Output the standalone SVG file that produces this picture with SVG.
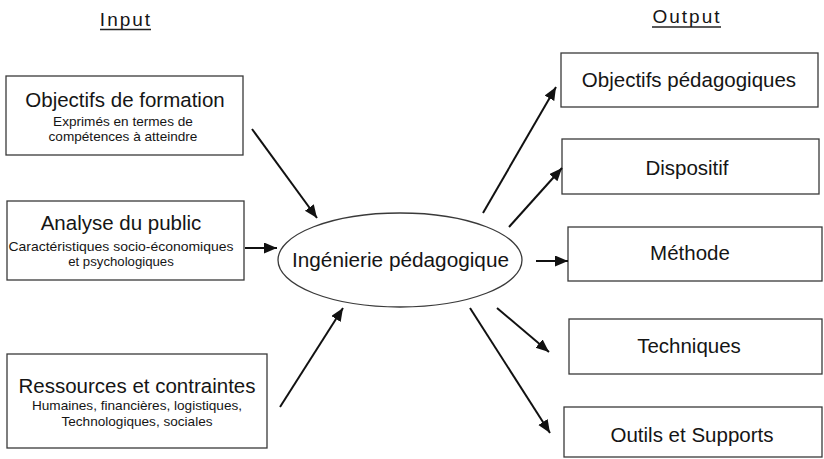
<svg xmlns="http://www.w3.org/2000/svg" width="824" height="459" viewBox="0 0 824 459">
<style>
text{font-family:"Liberation Sans",Arial,sans-serif;fill:#151515;text-anchor:middle}
.box{fill:#fff;stroke:#3a3a3a;stroke-width:1.3}
.t{font-size:20.5px}
.s{font-size:13.6px}
.s2{font-size:13.2px}
.h{font-size:19px;letter-spacing:2px}
.o{font-size:20.5px}
.c line{stroke:#111;stroke-width:2;marker-end:url(#ah)}
</style>
<defs>
<marker id="ah" markerUnits="userSpaceOnUse" markerWidth="14" markerHeight="12" refX="13" refY="5.5" orient="auto">
<path d="M0,0 L13,5.5 L0,11 z" fill="#111"/>
</marker>
</defs>
<rect width="824" height="459" fill="#fff"/>
<g id="headings">
<text class="h" x="126" y="26">Input</text>
<line x1="100" y1="29.5" x2="151" y2="29.5" stroke="#222" stroke-width="1.3"/>
<text class="h" x="687" y="23">Output</text>
<line x1="652" y1="27" x2="721" y2="27" stroke="#222" stroke-width="1.3"/>
</g>
<g id="in1">
<rect class="box" x="6" y="76" width="237" height="79"/>
<text class="t" x="125" y="107">Objectifs de formation</text>
<text class="s" x="123" y="126">Exprimés en termes de</text>
<text class="s" x="123" y="141">compétences à atteindre</text>
</g>
<g id="in2">
<rect class="box" x="7" y="201" width="237" height="79"/>
<text class="t" x="121" y="230">Analyse du public</text>
<text class="s2" x="121" y="251" textLength="225" lengthAdjust="spacingAndGlyphs">Caractéristiques socio-économiques</text>
<text class="s2" x="121" y="266">et psychologiques</text>
</g>
<g id="in3">
<rect class="box" x="7" y="354" width="260" height="94"/>
<text class="t" x="137" y="393">Ressources et contraintes</text>
<text class="s" x="137" y="410">Humaines, financières, logistiques,</text>
<text class="s" x="137" y="426">Technologiques, sociales</text>
</g>
<g id="center">
<ellipse cx="400" cy="260" rx="122" ry="47" fill="#fff" stroke="#3a3a3a" stroke-width="1.3"/>
<text class="o" x="400.5" y="267" textLength="217" lengthAdjust="spacingAndGlyphs">Ingénierie pédagogique</text>
</g>
<g id="out1">
<rect class="box" x="561" y="53" width="257" height="54"/>
<text class="o" x="689" y="87">Objectifs pédagogiques</text>
</g>
<g id="out2">
<rect class="box" x="562" y="139" width="257" height="55"/>
<text class="o" x="687" y="175">Dispositif</text>
</g>
<g id="out3">
<rect class="box" x="568" y="227" width="254" height="54"/>
<text class="o" x="690" y="260">Méthode</text>
</g>
<g id="out4">
<rect class="box" x="569" y="319" width="253" height="55"/>
<text class="o" x="689" y="353">Techniques</text>
</g>
<g id="out5">
<rect class="box" x="564" y="407" width="258" height="50"/>
<text class="o" x="692" y="442">Outils et Supports</text>
</g>
<g class="c" id="connectors">
<line x1="252" y1="129" x2="317" y2="218"/>
<line x1="245" y1="248" x2="277" y2="248"/>
<line x1="280" y1="407" x2="343" y2="308"/>
<line x1="483" y1="213" x2="556" y2="87"/>
<line x1="509" y1="227" x2="562" y2="168"/>
<line x1="536" y1="261" x2="568" y2="261"/>
<line x1="497" y1="308" x2="549" y2="352"/>
<line x1="470" y1="308" x2="550" y2="433"/>
</g>
</svg>
